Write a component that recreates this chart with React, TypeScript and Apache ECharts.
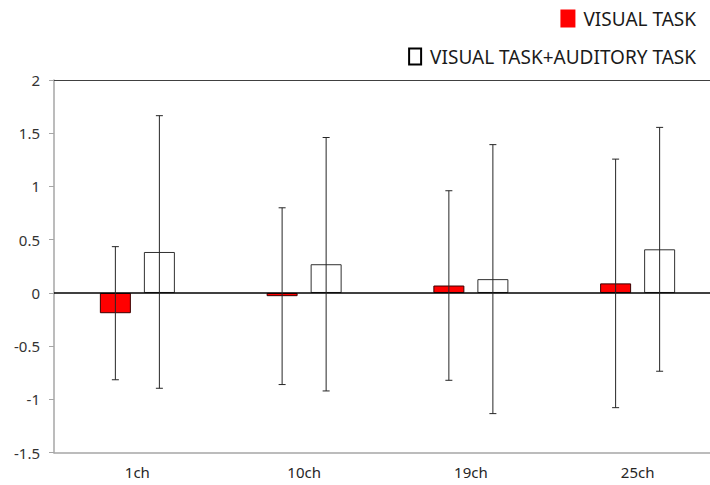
import React, { useEffect, useRef } from "react";
import * as echarts from "echarts";

const categories = ["1ch", "10ch", "19ch", "25ch"];
const visualMean = [-0.19, -0.03, 0.07, 0.09];
const visualSd = [0.625, 0.83, 0.89, 1.167];
const dualMean = [0.385, 0.27, 0.13, 0.41];
const dualSd = [1.28, 1.19, 1.263, 1.145];
const seriesNames = ["VISUAL TASK", "VISUAL TASK+AUDITORY TASK"];

const BAR_W = 31;
const GAP = 0.42;
const FONT = "'Noto Sans', 'DejaVu Sans', sans-serif";
const EXTRA = 11; // plot area runs past the right edge of the picture

function errorSeries(means: number[], sds: number[], side: number) {
  const offset = (side * (BAR_W + BAR_W * GAP)) / 2;
  return {
    type: "custom",
    z: 5,
    silent: true,
    data: means.map((m, i) => [i, m, sds[i]]),
    encode: { x: 0, y: 1 },
    renderItem: (params: any, api: any) => {
      const x = api.value(0);
      const m = api.value(1);
      const s = api.value(2);
      const top = api.coord([x, m + s]);
      const bot = api.coord([x, m - s]);
      const cx = top[0] + offset;
      const cap = 3.5;
      const style = { stroke: "#262626", lineWidth: 1 };
      return {
        type: "group",
        children: [
          { type: "line", shape: { x1: cx, y1: top[1], x2: cx, y2: bot[1] }, style },
          { type: "line", shape: { x1: cx - cap, y1: top[1], x2: cx + cap, y2: top[1] }, style },
          { type: "line", shape: { x1: cx - cap, y1: bot[1], x2: cx + cap, y2: bot[1] }, style },
        ],
      };
    },
  };
}

export default function App() {
  const ref = useRef<HTMLDivElement>(null);
  useEffect(() => {
    if (!ref.current) return;
    const chart = echarts.init(ref.current, undefined, { renderer: "svg" });
    chart.setOption({
      animation: false,
      backgroundColor: "#ffffff",
      textStyle: { fontFamily: FONT },
      grid: { left: 54, top: 80, bottom: 32.3, right: 0, containLabel: false },
      legend: [
        {
          data: [{ name: seriesNames[0], itemStyle: { color: "#ff0000", borderWidth: 0 } }],
          right: 14 + EXTRA,
          top: 9,
          padding: 0,
          icon: "rect",
          itemWidth: 15,
          itemHeight: 18,
          textStyle: { fontFamily: FONT, fontSize: 19, color: "#1a1a1a", padding: [0, 0, 0, 3] },
        },
        {
          data: [
            {
              name: seriesNames[1],
              itemStyle: { color: "#ffffff", borderColor: "#000000", borderWidth: 2 },
            },
          ],
          right: 14 + EXTRA,
          top: 47,
          padding: 0,
          icon: "rect",
          itemWidth: 12,
          itemHeight: 16,
          textStyle: { fontFamily: FONT, fontSize: 19, color: "#1a1a1a", padding: [0, 0, 0, 4] },
        },
      ],
      xAxis: {
        type: "category",
        data: categories,
        axisLine: { onZero: false, lineStyle: { color: "#a6a6a6", width: 1.5 } },
        axisTick: { show: false },
        axisLabel: { fontFamily: FONT, fontSize: 15, color: "#262626", margin: 12 },
      },
      yAxis: {
        type: "value",
        min: -1.5,
        max: 2,
        interval: 0.5,
        axisLine: { show: true, lineStyle: { color: "#a6a6a6", width: 1.5 } },
        axisTick: { show: true, length: 5, lineStyle: { color: "#a6a6a6" } },
        splitLine: { show: false },
        axisLabel: { fontFamily: FONT, fontSize: 15, color: "#333333", margin: 14 },
      },
      series: [
        {
          name: seriesNames[0],
          type: "bar",
          data: visualMean,
          barWidth: BAR_W,
          barGap: GAP * 100 + "%",
          itemStyle: { color: "#ff0000", borderColor: "#3a0000", borderWidth: 1 },
          markLine: {
            silent: true,
            symbol: ["none", "none"],
            label: { show: false },
            data: [
              { yAxis: 0, lineStyle: { color: "#000000", width: 1.5, type: "solid" } },
              { yAxis: 2, lineStyle: { color: "#404040", width: 1, type: "solid" } },
            ],
          },
        },
        {
          name: seriesNames[1],
          type: "bar",
          data: dualMean,
          barWidth: BAR_W,
          barGap: GAP * 100 + "%",
          itemStyle: { color: "#ffffff", borderColor: "#303030", borderWidth: 1 },
        },
        errorSeries(visualMean, visualSd, -1),
        errorSeries(dualMean, dualSd, 1),
      ],
    });
    return () => chart.dispose();
  }, []);
  return (
    <div
      style={{
        position: "fixed",
        left: 0,
        top: 0,
        width: 710,
        height: 485,
        overflow: "hidden",
        background: "#fff",
      }}
    >
      <div ref={ref} style={{ width: 710 + EXTRA, height: 485 }} />
    </div>
  );
}
